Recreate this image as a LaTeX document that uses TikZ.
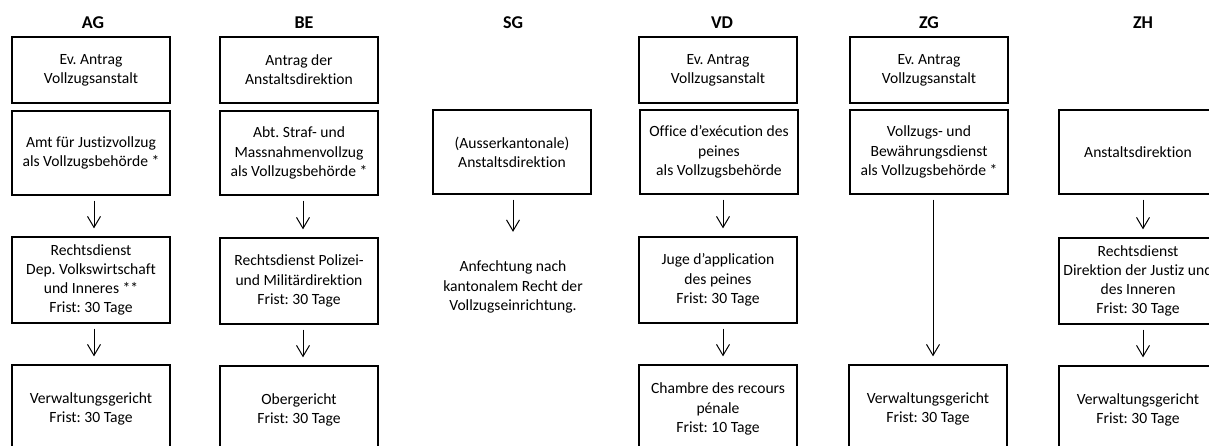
\documentclass[tikz,border=0pt]{standalone}
\usepackage{fontspec}
\setmainfont{Carlito}[Ligatures={NoCommon,NoRare,NoDiscretionary}]
\usetikzlibrary{arrows.meta}
\frenchspacing
\newcommand\boxfont{\fontsize{15.6}{19.2}\selectfont}
\newcommand\headfont{\fontsize{18}{20}\selectfont\bfseries}
\begin{document}
\begin{tikzpicture}[x=1pt,y=-1pt,
  box/.style={draw, line width=1.3pt, align=center, inner sep=0pt,
              minimum width=158pt, font=\boxfont},
  hbox/.style={box, minimum height=66pt},
  mbox/.style={box, minimum height=84pt},
  rbox/.style={box, minimum height=86pt},
  bbox/.style={box, minimum height=88pt},
  head/.style={font=\headfont},
  plain/.style={align=center, inner sep=0pt, font=\boxfont},
  arr/.style={line width=1pt, -{Straight Barb[length=11pt,width=13pt]},
              shorten <=5pt, shorten >=8pt}]
\useasboundingbox (0,0) rectangle (1209,446);
\clip (0,0) rectangle (1209,446);

% canton headings
\node[head] (hAG) at (93,23)  {AG};
\node[head] (hBE) at (304,23) {BE};
\node[head] (hSG) at (513,23) {SG};
\node[head] (hVD) at (722,23) {VD};
\node[head] (hZG) at (929,23) {ZG};
\node[head] (hZH) at (1143,23) {ZH};

% AG
\node[hbox] (ag1) at (91,70)  {Ev. Antrag\\Vollzugsanstalt};
\node[mbox] (ag2) at (91,153) {Amt für Justizvollzug\\als Vollzugsbehörde *};
\node[rbox] (ag3) at (91,280) {Rechtsdienst\\Dep. Volkswirtschaft\\und Inneres **\\Frist: 30 Tage};
\node[bbox] (ag4) at (91,409) {Verwaltungsgericht\\Frist: 30 Tage};

% BE
\node[hbox] (be1) at (299,70)  {Antrag der\\Anstaltsdirektion};
\node[mbox] (be2) at (299,153) {Abt. Straf- und\\Massnahmenvollzug\\als Vollzugsbehörde *};
\node[rbox] (be3) at (299,281) {Rechtsdienst Polizei-\\und Militärdirektion\\Frist: 30 Tage};
\node[bbox] (be4) at (299,410) {Obergericht\\Frist: 30 Tage};

% SG
\node[mbox] (sg2) at (512,152) {(Ausserkantonale)\\Anstaltsdirektion};
\node[plain] (sg3) at (513,287) {Anfechtung nach\\kantonalem Recht der\\Vollzugseinrichtung.};

% VD
\node[hbox] (vd1) at (718,70)  {Ev. Antrag\\Vollzugsanstalt};
\node[mbox] (vd2) at (719,152) {Office d'exécution des\\peines\\als Vollzugsbehörde};
\node[rbox] (vd3) at (718,280) {Juge d'application\\des peines\\Frist: 30 Tage};
\node[bbox] (vd4) at (718,409) {Chambre des recours\\pénale\\Frist: 10 Tage};

% ZG
\node[hbox] (zg1) at (929,70)  {Ev. Antrag\\Vollzugsanstalt};
\node[mbox] (zg2) at (929,152) {Vollzugs- und\\Bewährungsdienst\\als Vollzugsbehörde *};
\node[bbox] (zg4) at (928,409) {Verwaltungsgericht\\Frist: 30 Tage};

% ZH
\node[mbox] (zh2) at (1138,152) {Anstaltsdirektion};
\node[rbox] (zh3) at (1138,281) {Rechtsdienst\\Direktion der Justiz und\\des Inneren\\Frist: 30 Tage};
\node[bbox] (zh4) at (1138,410) {Verwaltungsgericht\\Frist: 30 Tage};

% appeal arrows
\draw[arr] ([xshift=3pt]ag2.south) -- ([xshift=3pt]ag3.north);
\draw[arr] ([xshift=3pt]ag3.south) -- ([xshift=3pt]ag4.north);
\draw[arr] ([xshift=4pt]be2.south) -- ([xshift=4pt]be3.north);
\draw[arr] ([xshift=4pt]be3.south) -- ([xshift=4pt]be4.north);
\draw[arr, shorten >=29pt] ([xshift=1pt]sg2.south) -- ([xshift=0pt]sg3.north);
\draw[arr] ([xshift=4pt]vd2.south) -- ([xshift=5pt]vd3.north);
\draw[arr] ([xshift=5pt]vd3.south) -- ([xshift=5pt]vd4.north);
\draw[arr] ([xshift=4pt]zg2.south) -- ([xshift=5pt]zg4.north);
\draw[arr] ([xshift=5pt]zh2.south) -- ([xshift=5pt]zh3.north);
\draw[arr] ([xshift=5pt]zh3.south) -- ([xshift=5pt]zh4.north);
\end{tikzpicture}
\end{document}
